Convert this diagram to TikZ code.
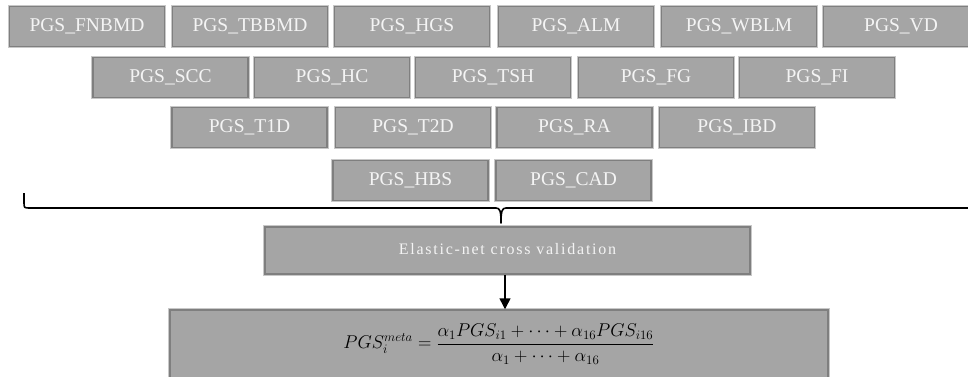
\RequirePackage{fix-cm}
\documentclass[tikz,border=0pt]{standalone}
\usepackage{fontspec}
\setmainfont{Liberation Serif}
\usetikzlibrary{arrows.meta}
\definecolor{boxfill}{HTML}{A5A5A5}
\definecolor{boxborder}{HTML}{7F7F7F}
\definecolor{boxlight}{HTML}{C8C8C8}
\definecolor{boxtext}{HTML}{F4F4F4}
\begin{document}
\begin{tikzpicture}[x=1pt,y=-1pt,
  gbox/.style={rectangle, fill=boxfill, draw=boxborder, line width=1.5pt,
    preaction={draw=boxlight, line width=3.5pt}, inner sep=0pt},
  pgsbox/.style={gbox, minimum width=155pt, minimum height=40pt,
    text=boxtext, font=\fontsize{19.5}{22}\selectfont},
  conn/.style={line width=1.5pt, -{Triangle[width=11pt,length=11pt]}},
  bracepath/.style={line width=1.6pt, line join=round}]
\useasboundingbox (0,0) rectangle (968,376);
% row 1
\node[pgsbox] (fnbmd) at (87,26.5) {PGS\_FNBMD};
\node[pgsbox] (tbbmd) at (250,26.5) {PGS\_TBBMD};
\node[pgsbox] (hgs) at (412,26.5) {PGS\_HGS};
\node[pgsbox] (alm) at (576,26.5) {PGS\_ALM};
\node[pgsbox] (wblm) at (739,26.5) {PGS\_WBLM};
\node[pgsbox] (vd) at (901,26.5) {PGS\_VD};
% row 2
\node[pgsbox] (scc) at (170.5,77.5) {PGS\_SCC};
\node[pgsbox] (hc) at (332,77.5) {PGS\_HC};
\node[pgsbox] (tsh) at (493,77.5) {PGS\_TSH};
\node[pgsbox] (fg) at (656,77.5) {PGS\_FG};
\node[pgsbox] (fi) at (817,77.5) {PGS\_FI};
% row 3
\node[pgsbox] (tid) at (249.5,127.5) {PGS\_T1D};
\node[pgsbox] (ttd) at (413,127.5) {PGS\_T2D};
\node[pgsbox] (ra) at (574.5,127.5) {PGS\_RA};
\node[pgsbox] (ibd) at (737,127.5) {PGS\_IBD};
% row 4
\node[pgsbox] (hbs) at (410.5,180.5) {PGS\_HBS};
\node[pgsbox] (cad) at (573.5,180.5) {PGS\_CAD};
% brace
\coordinate (bl) at (24,193);
\coordinate (br) at (976,193);
\coordinate (tip) at (501,223);
\draw[bracepath] (bl) -- (24,202) .. controls (24,208) .. (30,208) -- (496,208)
  .. controls (500,208) and (501,211) .. (tip)
  .. controls (501,211) and (502,208) .. (506,208) -- (970,208)
  .. controls (976,208) .. (976,202) -- (br);
% elastic net
\node[gbox, minimum width=485pt, minimum height=47pt, text=boxtext,
  font=\fontsize{16}{19}\selectfont\addfontfeatures{LetterSpace=11}] (enet) at (507.5,250.5)
  {\raisebox{3pt}{Elastic-net cross validation}};
% formula
\node[gbox, minimum width=658pt, minimum height=68pt,
  font=\fontsize{18.5}{22}\selectfont] (meta) at (499,344)
  {$\displaystyle PGS_i^{meta}=\frac{\alpha_1 PGS_{i1}+\cdots+\alpha_{16}PGS_{i16}}{\alpha_1+\cdots+\alpha_{16}}$};
\draw[conn] ([xshift=-2.5pt]enet.south) -- ([xshift=-2.5pt]enet.south |- meta.north);
\end{tikzpicture}
\end{document}
